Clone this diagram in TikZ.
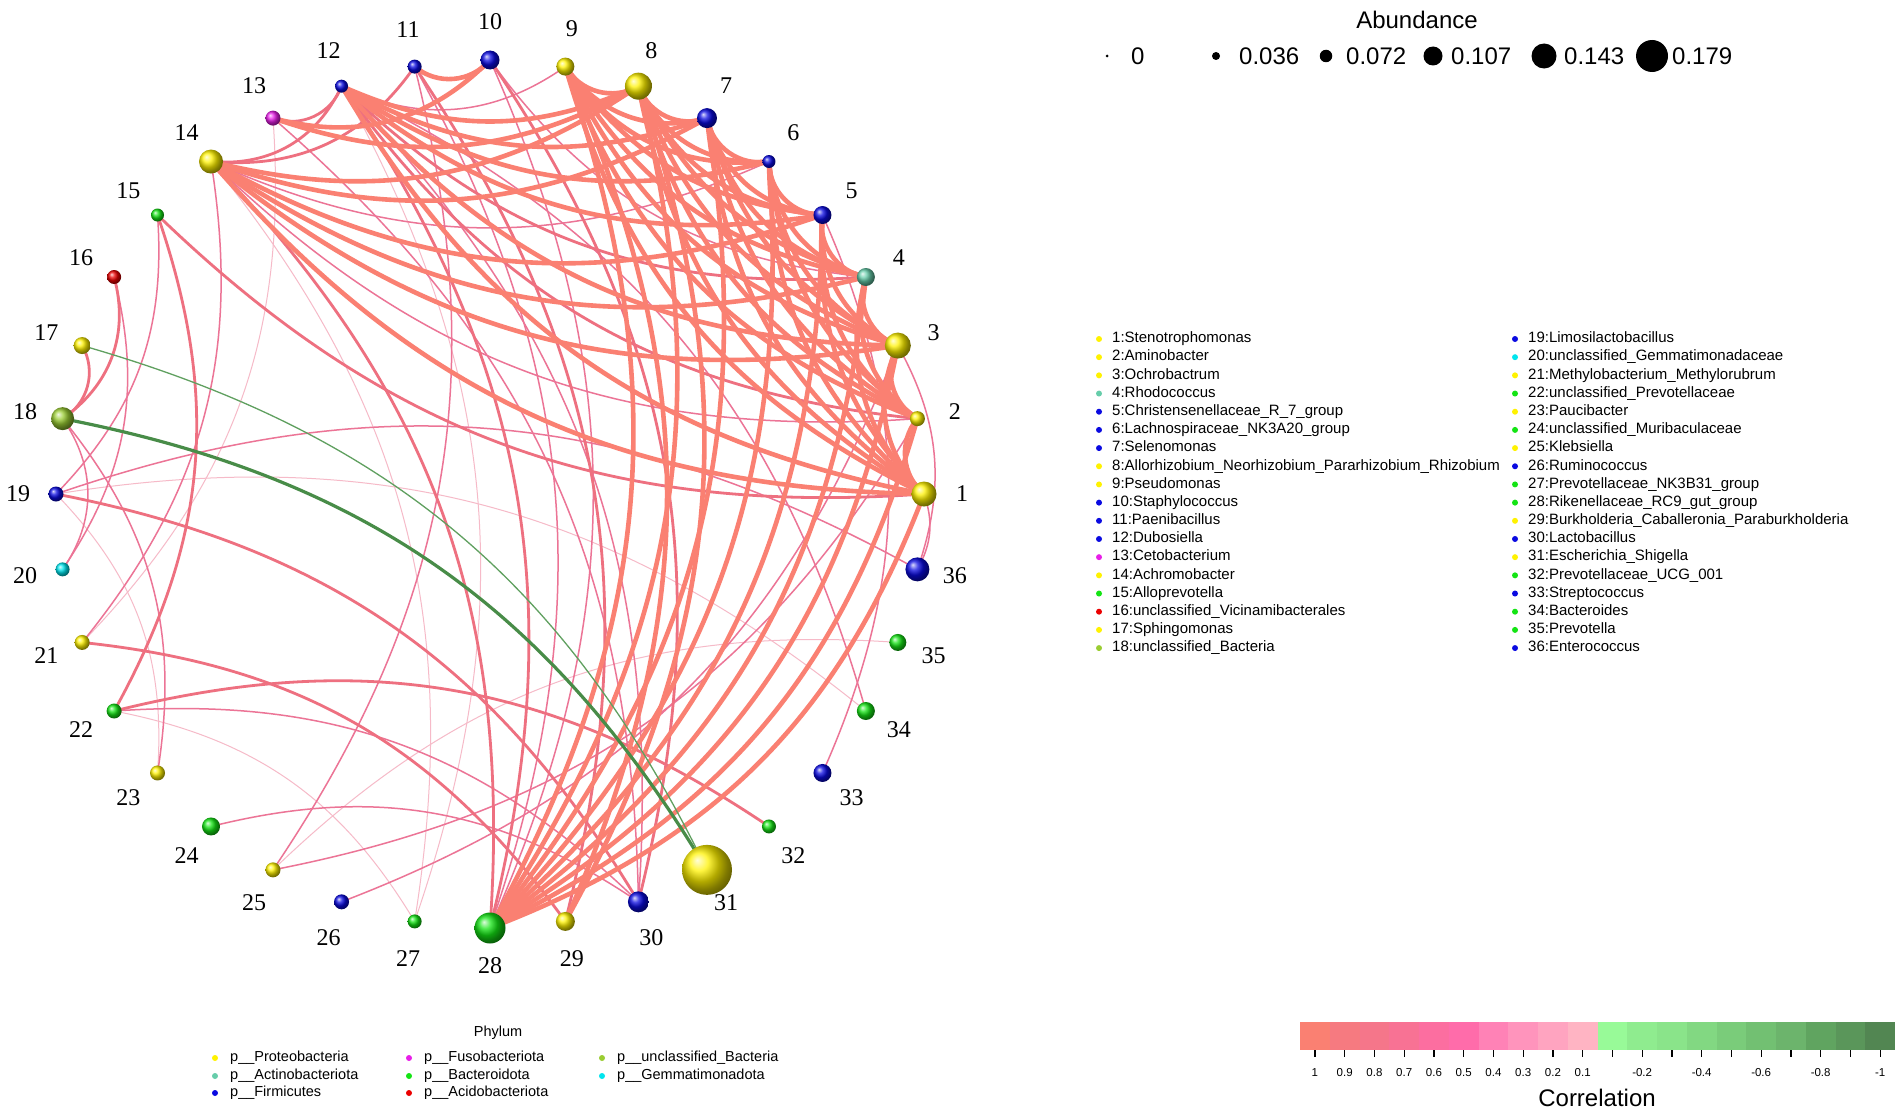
\documentclass[tikz,border=0pt]{standalone}
\usepackage{fontspec}
\setmainfont{Liberation Serif}
\setsansfont{Liberation Sans}

% phylum colours
\definecolor{proteo}{RGB}{255,242,0}
\definecolor{actino}{RGB}{102,205,170}
\definecolor{firmi}{RGB}{10,10,225}
\definecolor{fuso}{RGB}{232,30,232}
\definecolor{bactero}{RGB}{20,228,20}
\definecolor{acido}{RGB}{235,0,0}
\definecolor{unclbac}{RGB}{154,205,50}
\definecolor{gemma}{RGB}{0,229,238}
% correlation colours
\definecolor{corrA}{RGB}{250,128,114}
\definecolor{corrB}{RGB}{238,112,128}
\definecolor{corrC}{RGB}{236,116,150}
\definecolor{corrD}{RGB}{246,186,200}
\definecolor{greenA}{RGB}{72,140,72}
\definecolor{greenB}{RGB}{96,160,96}

\pgfdeclarelayer{background}
\pgfdeclarelayer{edges}
\pgfsetlayers{background,edges,main}

% curved link between two taxa, bent more for close neighbours
\newcommand\taxlink[3]{%
  \pgfmathtruncatemacro\tkdist{abs(#2-#1)}%
  \pgfmathtruncatemacro\tkbend{ifthenelse(\tkdist==1,45,ifthenelse(\tkdist==2,35,ifthenelse(\tkdist==3,30,24)))}%
  \draw[#3] (n#1.center) to[bend left=\tkbend] (n#2.center);}

\begin{document}
\begin{tikzpicture}[x=1pt,y=1pt,
    taxon/.style={circle,inner sep=0pt},
    numlabel/.style={font=\fontsize{24}{24}\selectfont,inner sep=0pt},
    legtext/.style={font=\sffamily\fontsize{15}{16}\selectfont,anchor=west,inner sep=0pt,text height=10.8pt,text depth=3.2pt},
    legdot/.style={circle,inner sep=0pt,minimum size=6},
    bigtext/.style={font=\sffamily\fontsize{24}{24}\selectfont,inner sep=0pt},
    edgeA/.style={draw=corrA,line width=4.6},
    edgeB/.style={draw=corrB,line width=2.8},
    edgeC/.style={draw=corrC,line width=1.5},
    edgeD/.style={draw=corrD,line width=1},
    negA/.style={draw=greenA,line width=3.2},
    negB/.style={draw=greenB,line width=1.3}]
\useasboundingbox (0,0) rectangle (1902,-1116);
\begin{pgfonlayer}{background}
  \fill[white] (0,0) rectangle (1902,-1116);
\end{pgfonlayer}

% taxa on the circle
\foreach \k/\c/\d in {
   1/proteo/25,  2/proteo/15,  3/proteo/26,  4/actino/18,  5/firmi/18,   6/firmi/13,
   7/firmi/20,   8/proteo/27,  9/proteo/18, 10/firmi/19,  11/firmi/14,  12/firmi/13,
  13/fuso/15,   14/proteo/24, 15/bactero/13,16/acido/14,  17/proteo/17, 18/unclbac/23,
  19/firmi/15,  20/gemma/14,  21/proteo/15, 22/bactero/15,23/proteo/15, 24/bactero/18,
  25/proteo/15, 26/firmi/15,  27/bactero/14,28/bactero/31,29/proteo/19, 30/firmi/21,
  31/proteo/50, 32/bactero/14,33/firmi/18,  34/bactero/18,35/bactero/17,36/firmi/24}{
  \pgfmathsetmacro\ang{(\k-1)*10}
  \node[taxon,ball color=\c,minimum size=\d] (n\k) at ({490+434*cos(\ang)},{-494+434*sin(\ang)}) {};
  \node[numlabel] (l\k) at ({490+472*cos(\ang)},{-494+472*sin(\ang)}) {\k};
}

% correlations
\begin{pgfonlayer}{edges}
  \foreach \i/\j in {22/27,25/35,19/34,13/21,12/27,14/27,19/23}
    {\taxlink{\i}{\j}{edgeD}}
  \foreach \i/\j in {2/14,6/14,4/10,10/28,11/28,12/30,13/30,18/20,18/23,15/19,16/20,1/36,
                     3/36,19/36,22/30,11/25,2/25,3/26,5/33,12/34,14/21,9/12,24/30}
    {\taxlink{\i}{\j}{edgeC}}
  \foreach \i/\j in {2/12,4/12,11/14,12/14,12/13,12/28,14/28,10/30,11/29,1/15,15/22,
                     16/18,17/18,19/30,21/29,22/32}
    {\taxlink{\i}{\j}{edgeB}}
  \foreach \i in {1,...,8}{
    \pgfmathtruncatemacro\nxt{\i+1}
    \foreach \j in {\nxt,...,9} {\taxlink{\i}{\j}{edgeA}}
  }
  \foreach \i/\j in {1/12,3/12,5/12,6/12,7/12,8/12,1/14,3/14,4/14,5/14,7/14,8/14,
                     8/13,10/13,10/11,8/29,9/29}
    {\taxlink{\i}{\j}{edgeA}}
  \foreach \i in {1,...,9} {\taxlink{\i}{28}{edgeA}}
  \taxlink{18}{31}{negA}
  \taxlink{17}{31}{negB}
\end{pgfonlayer}

% abundance legend
\node[bigtext] (abtitle) at (1417,-20) {Abundance};
\foreach \v/\d/\x/\tx [count=\n] in {0/3/1107/1131, 0.036/8/1216/1239, 0.072/12.5/1326/1346,
    0.107/19/1433/1451, 0.143/25/1544/1564, 0.179/32/1652/1672}{
  \node[circle,fill=black,inner sep=0pt,minimum size=\d] (ad\n) at (\x,-56) {};
  \node[bigtext,anchor=west] (av\n) at (\tx,-56) {\v};
}

% genus legend
\foreach \k/\c/\t in {1/proteo/Stenotrophomonas, 2/proteo/Aminobacter, 3/proteo/Ochrobactrum,
    4/actino/Rhodococcus, 5/firmi/Christensenellaceae\_R\_7\_group,
    6/firmi/Lachnospiraceae\_NK3A20\_group, 7/firmi/Selenomonas,
    8/proteo/Allorhizobium\_Neorhizobium\_Pararhizobium\_Rhizobium, 9/proteo/Pseudomonas,
    10/firmi/Staphylococcus, 11/firmi/Paenibacillus, 12/firmi/Dubosiella,
    13/fuso/Cetobacterium, 14/proteo/Achromobacter, 15/bactero/Alloprevotella,
    16/acido/unclassified\_Vicinamibacterales, 17/proteo/Sphingomonas,
    18/unclbac/unclassified\_Bacteria, 19/firmi/Limosilactobacillus,
    20/gemma/unclassified\_Gemmatimonadaceae, 21/proteo/Methylobacterium\_Methylorubrum,
    22/bactero/unclassified\_Prevotellaceae, 23/proteo/Paucibacter,
    24/bactero/unclassified\_Muribaculaceae, 25/proteo/Klebsiella, 26/firmi/Ruminococcus,
    27/bactero/Prevotellaceae\_NK3B31\_group, 28/bactero/Rikenellaceae\_RC9\_gut\_group,
    29/proteo/Burkholderia\_Caballeronia\_Paraburkholderia, 30/firmi/Lactobacillus,
    31/proteo/Escherichia\_Shigella, 32/bactero/Prevotellaceae\_UCG\_001,
    33/firmi/Streptococcus, 34/bactero/Bacteroides, 35/bactero/Prevotella,
    36/firmi/Enterococcus}{
  \pgfmathsetmacro\xx{ifthenelse(\k>18,1515,1099)}
  \pgfmathsetmacro\yy{-339-18.18*mod(\k-1,18)}
  \node[legdot,fill=\c] (gd\k) at (\xx,\yy) {};
  \node[legtext] (gt\k) at (\xx+13,\yy) {\k:\t};
}

% phylum legend
\node[font=\sffamily\fontsize{14.5}{16}\selectfont] (phytitle) at (498,-1033) {Phylum};
\foreach \c/\t/\x/\y [count=\n] in {proteo/Proteobacteria/215/1058, actino/Actinobacteriota/215/1076,
    firmi/Firmicutes/215/1093, fuso/Fusobacteriota/409/1058, bactero/Bacteroidota/409/1076,
    acido/Acidobacteriota/409/1093, unclbac/unclassified\_Bacteria/602/1058,
    gemma/Gemmatimonadota/602/1076}{
  \node[legdot,fill=\c] (pd\n) at (\x,-\y) {};
  \node[legtext,font=\sffamily\fontsize{14.5}{16}\selectfont] (pt\n) at (\x+15,-\y) {p\_\_\t};
}

% correlation colour bar
\foreach \r/\g/\b [count=\q from 0] in {250/128/114,246/122/128,245/118/138,248/114/148,
    252/110/160,255/108/170,255/130/182,255/148/188,255/164/192,255/180/195,
    152/250/152,143/236/143,138/228/138,130/216/130,122/204/122,114/192/114,
    108/180/108,96/164/96,90/150/90,82/134/82}{
  \fill[fill={rgb,255:red,\r;green,\g;blue,\b}] (1300+29.75*\q,-1022) rectangle ++(29.75,-28);
  \draw[line width=1.2] (1314.9+29.75*\q,-1050) -- ++(0,-7);
}
\foreach \v/\q in {1/0,0.9/1,0.8/2,0.7/3,0.6/4,0.5/5,0.4/6,0.3/7,0.2/8,0.1/9,
    -0.2/11,-0.4/13,-0.6/15,-0.8/17,-1/19}
  \node[font=\sffamily\fontsize{11.5}{12}\selectfont] (cb\q) at (1314.9+29.75*\q,-1073) {\v};
\node[bigtext] (cortitle) at (1597,-1098) {Correlation};
\end{tikzpicture}
\end{document}
